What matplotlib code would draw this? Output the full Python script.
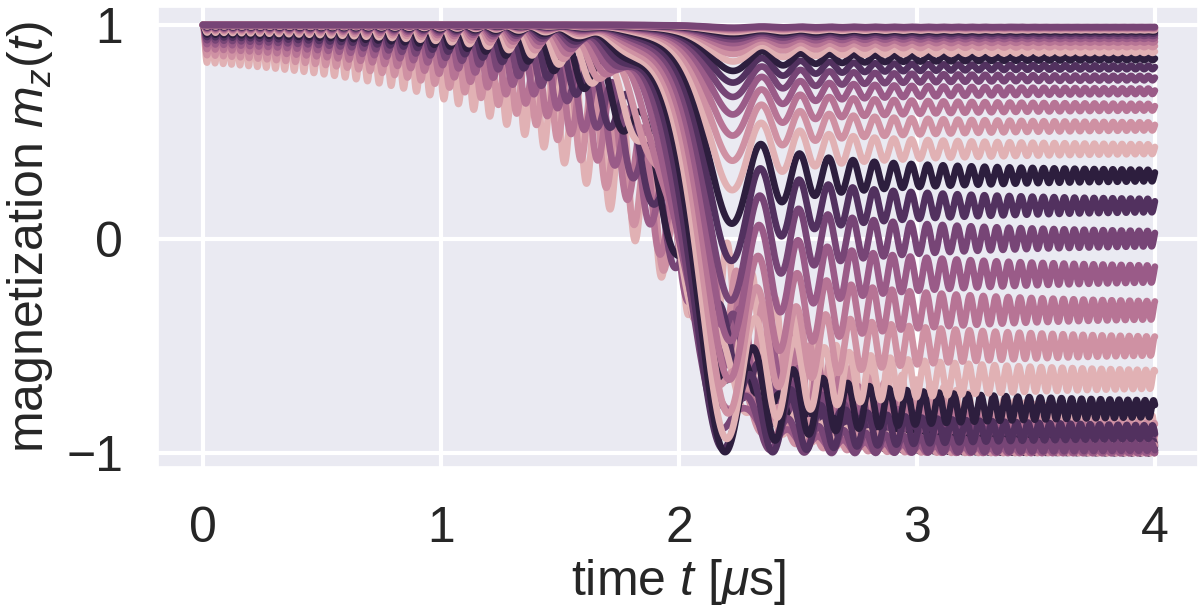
import numpy as np
import matplotlib
matplotlib.use("Agg")
import matplotlib.pyplot as plt
import seaborn as sns

# sweep of the detuning through resonance
t_end = 4.0          # us
t_center = 2.0       # us, resonance crossing
sweep_rate = 90.0    # rad/us^2

# coupling strengths [rad/us], inferred from the plateau levels at t = 4 us
coupling = [0.516, 0.582, 0.657, 0.740, 0.835, 0.941, 1.061, 1.196, 1.349,
            1.521, 1.715, 1.933, 2.180, 2.458, 2.771, 3.125, 3.523, 3.972,
            4.479, 5.050, 5.694, 6.420, 7.238, 8.161, 9.202, 10.375, 11.698,
            13.189, 14.871, 16.767, 18.904, 21.315, 24.032, 27.097, 30.553,
            34.446, 38.839, 43.790, 49.373, 55.668]

x_ticks = [0, 1, 2, 3, 4]
y_ticks = [-1, 0, 1]


def bloch_mz(t, om):
    """m_z(t) of a spin starting at +z, precessing about (om, 0, delta(t))."""
    M = np.zeros((len(om), 3))
    M[:, 2] = 1.0
    out = np.empty((len(t), len(om)))
    out[0] = 1.0
    for i in range(1, len(t)):
        dt = t[i] - t[i - 1]
        d = sweep_rate * (0.5 * (t[i] + t[i - 1]) - t_center)
        B = np.column_stack([om, np.zeros_like(om), np.full_like(om, d)])
        b = np.linalg.norm(B, axis=1)
        n = B / b[:, None]
        c = np.cos(b * dt)[:, None]
        s = np.sin(b * dt)[:, None]
        M = M * c + np.cross(n, M) * s + n * (n * M).sum(1)[:, None] * (1 - c)
        out[i] = M[:, 2]
    return out


sns.set_theme(style="darkgrid")
plt.rcParams["font.family"] = ["Liberation Sans", "DejaVu Sans"]
plt.rcParams["mathtext.fontset"] = "custom"
plt.rcParams["mathtext.rm"] = "Liberation Sans"
plt.rcParams["mathtext.it"] = "Liberation Sans:italic"
plt.rcParams["mathtext.bf"] = "Liberation Sans:bold"

t = np.linspace(0, t_end, 8001)
om = np.array(coupling)[::-1]          # strongest coupling drawn first
mz = bloch_mz(t, om)
pal = sns.cubehelix_palette(7, light=0.75)

fig = plt.figure(figsize=(12, 6.12), dpi=100)
ax = fig.add_axes([158 / 1200, 1 - 467 / 612, 1040 / 1200, 460 / 612])
for k in range(len(om)):
    ax.plot(t, mz[:, k], color=pal[k % len(pal)], lw=4.8,
            solid_capstyle="round")

ax.set_xlim(-0.189, 4.181)
ax.set_ylim(-1.065, 1.084)
ax.set_xticks(x_ticks)
ax.set_yticks(y_ticks)
ax.grid(color="white", lw=3)
ax.tick_params(labelsize=36, colors="#262626")
ax.tick_params(axis="x", pad=22)
ax.tick_params(axis="y", pad=19)
ax.set_xlabel(r"time $t$ [$\mu$s]", fontsize=36, color="#262626", labelpad=4)
ax.set_ylabel(r"magnetization $m_z(t)$", fontsize=36, color="#262626",
              labelpad=8)
fig.savefig("out.png", dpi=100)
